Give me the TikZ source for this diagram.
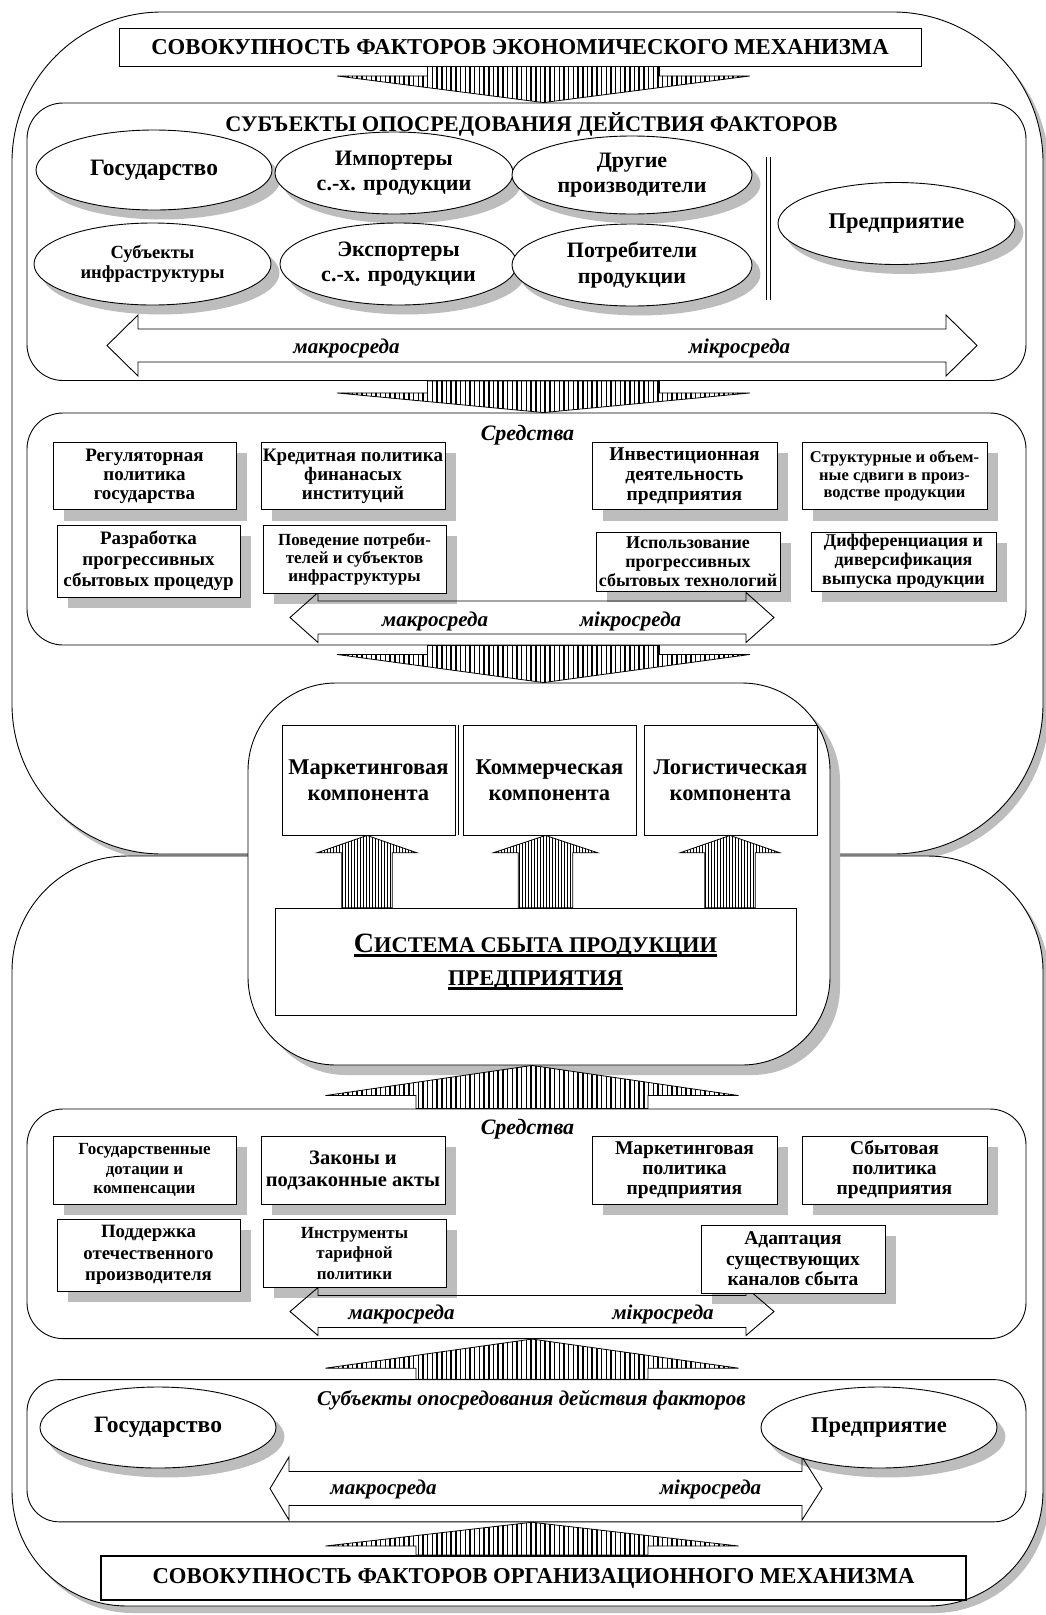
\documentclass[tikz,border=0pt]{standalone}
\usepackage{fontspec}
\setmainfont{Liberation Serif}
\usetikzlibrary{shapes.geometric,patterns.meta,calc,shadows}
\pgfdeclarelayer{bg}\pgfdeclarelayer{shd}\pgfdeclarelayer{arr}
\pgfsetlayers{bg,shd,arr,main}
\newcommand\fs[2]{\fontsize{#1}{#2}\selectfont}
\newsavebox\ulbox
\newcommand\thul[1]{\sbox\ulbox{#1}\rlap{\rule[-4.5pt]{\wd\ulbox}{3pt}}\usebox\ulbox}
\definecolor{shadowc}{gray}{0.74}
\tikzset{
 lw/.style={line width=0.9pt},
 outer/.style={draw, lw, fill=white, inner sep=0pt},
 bigbox/.style={draw, lw, fill=white, rounded corners=36pt, inner sep=0pt, minimum width=999pt},
 rbox/.style={draw, lw, fill=white, align=center, inner sep=1pt},
 cbox/.style={draw, lw, fill=white, align=center, inner sep=1pt, minimum width=173pt, minimum height=110pt, font=\bfseries\fs{22.5}{25.7}},
 ell/.style={ellipse, draw, lw, fill=white, align=center, inner sep=0pt},
 hatch/.style={draw, line width=0.8pt, preaction={fill=white}, pattern={Lines[angle=90,distance=4.7pt,line width=1.5pt]}},
 hatchs/.style={draw, line width=0.8pt, preaction={fill=white}, pattern={Lines[angle=90,distance=3pt,line width=0.9pt]}},
 blk/.style={draw, lw, line join=miter},
 itl/.style={font=\bfseries\itshape\fs{21}{24}, inner sep=0pt, anchor=base},
 ttl/.style={font=\bfseries\fs{22.7}{26}, inner sep=0pt},
}
% hatched block arrow: style, x, base, tip, signed shaft length, shaft half, head half
\newcommand\harr[7]{\path[#1] let \p1=(#2,0 |- #3), \p2=(#2,0 |- #4) in
 (\x1-#6,\y1) -- (\x1+#6,\y1) -- (\x1+#6,\y1+#5) -- (\x1+#7,\y1+#5) -- (\x2,\y2)
 -- (\x1-#7,\y1+#5) -- (\x1-#6,\y1+#5) -- cycle;}
% outlined double block arrow: left tip, left head, right head, right tip, y centre, shaft half, head half
\newcommand\dblarr[7]{\draw[blk] (#1,#5) -- (#2,#5-#7) -- (#2,#5-#6) -- (#3,#5-#6) -- (#3,#5-#7)
 -- (#4,#5) -- (#3,#5+#7) -- (#3,#5+#6) -- (#2,#5+#6) -- (#2,#5+#7) -- cycle;}
\newcommand\rshadow[1]{\fill[shadowc] ([shift={(11,11)}]#1.south west) rectangle ([shift={(11,11)}]#1.north east);}
\newcommand\eshadow[1]{\path[fill=shadowc] let \p1=(#1.east), \p2=(#1.north), \p3=(#1.center) in
 ([shift={(8,9)}]#1.center) ellipse [x radius={\x1-\x3}, y radius={\y2-\y3}];}
\begin{document}
\begin{tikzpicture}[x=1pt,y=-1pt]
\useasboundingbox (0,0) rectangle (1046,1615);
\begin{pgfonlayer}{bg}
\node[outer, rounded corners=150pt, minimum width=1031pt, minimum height=842pt,
  drop shadow={shadow xshift=6pt,shadow yshift=-7pt,fill=shadowc,opacity=1}] (otop) at (527.5,433) {};
\node[outer, rounded corners=115pt, minimum width=1031pt, minimum height=750pt,
  drop shadow={shadow xshift=6pt,shadow yshift=-7pt,fill=shadowc,opacity=1}] (obot) at (527.5,1231) {};
\node[bigbox, minimum height=277.5pt] (b2) at (526.5,241.75) {};
\node[bigbox, minimum height=232pt] (b3) at (526.5,529) {};
\node[bigbox, minimum height=229.6pt] (b4) at (526.5,1223.8) {};
\node[bigbox, minimum height=142.2pt, rounded corners=32pt] (b5) at (526.5,1450.7) {};
\node[outer, rounded corners=88pt, minimum width=582pt, minimum height=382pt,
  drop shadow={shadow xshift=10pt,shadow yshift=-10pt,fill=shadowc,opacity=1}] (cb) at (539,874) {};
\end{pgfonlayer}

% titles
\node[ttl, draw, lw, fill=white, minimum width=802pt, minimum height=38pt] (t1) at (520,47)
  {СОВОКУПНОСТЬ ФАКТОРОВ ЭКОНОМИЧЕСКОГО МЕХАНИЗМА};
\node[font=\bfseries\fs{22.3}{24}, inner sep=0pt, anchor=base] (t2) at (531.5,131)
  {СУБЪЕКТЫ ОПОСРЕДОВАНИЯ ДЕЙСТВИЯ ФАКТОРОВ};
\node[ttl, draw, line width=2pt, fill=white, minimum width=865pt, minimum height=44pt] (t3) at (533.5,1578)
  {СОВОКУПНОСТЬ ФАКТОРОВ ОРГАНИЗАЦИОННОГО МЕХАНИЗМА};

% ellipses, block 2
\node[ell, minimum width=236pt, minimum height=80pt, font=\bfseries\fs{23.5}{25.6}] (g1) at (154,170) {Государство};
\node[ell, minimum width=238pt, minimum height=82pt, font=\bfseries\fs{22}{25.6}] (imp) at (394,173) {Импортеры\\с.-х. продукции};
\node[ell, minimum width=240pt, minimum height=78pt, font=\bfseries\fs{22}{25.6}] (dr) at (632,175) {Другие\\производители};
\node[ell, minimum width=237pt, minimum height=82pt, font=\bfseries\fs{18.5}{20}] (sub) at (152.5,264) {Субъекты\\инфраструктуры};
\node[ell, minimum width=237pt, minimum height=82pt, font=\bfseries\fs{22}{25.6}] (exp) at (398.5,264) {Экспортеры\\с.-х. продукции};
\node[ell, minimum width=240pt, minimum height=82pt, font=\bfseries\fs{22}{25.6}] (pot) at (632,265) {Потребители\\продукции};
\node[ell, minimum width=237pt, minimum height=82pt, font=\bfseries\fs{22.5}{25.6}] (pr1) at (896.5,223.5) {Предприятие};
\coordinate (dlt) at (766,156.7); \coordinate (dlb) at (766,299.6);
\draw[lw] (dlt) -- (dlb);
\draw[lw] ([xshift=4.5pt]dlt) -- ([xshift=4.5pt]dlb);
\node[itl] (mk1) at (346.5,353) {макросреда};
\node[itl] (mi1) at (739.5,353) {мікросреда};

% block 3
\node[itl, font=\bfseries\itshape\fs{22}{24}] (sr1) at (527.5,440.8) {Средства};
\node[rbox, minimum width=183pt, minimum height=67pt, font=\bfseries\fs{19}{19}] (r1) at (144.5,476) {Регуляторная\\политика\\государства};
\node[rbox, minimum width=184pt, minimum height=67pt, font=\bfseries\fs{19}{19}] (r2) at (353,476) {Кредитная политика\\финанасых\\институций};
\node[rbox, minimum width=183pt, minimum height=72pt, font=\bfseries\fs{19}{21}] (r3) at (148.5,561) {Разработка\\прогрессивных\\сбытовых процедур};
\node[rbox, minimum width=183pt, minimum height=68pt, font=\bfseries\fs{17}{18}] (r4) at (354.5,559) {Поведение потреби-\\телей и субъектов\\инфраструктуры};
\node[rbox, minimum width=185pt, minimum height=67pt, font=\bfseries\fs{19.5}{20}] (r5) at (684.5,476) {Инвестиционная\\деятельность\\предприятия};
\node[rbox, minimum width=185pt, minimum height=67pt, font=\bfseries\fs{16.5}{17.2}] (r6) at (894.5,476) {Структурные и объем-\\ные сдвиги в произ-\\водстве продукции};
\node[rbox, minimum width=184pt, minimum height=59pt, font=\bfseries\fs{18}{19}] (r7) at (688,561.5) {Использование\\прогрессивных\\сбытовых технологий};
\node[rbox, minimum width=185pt, minimum height=59pt, font=\bfseries\fs{18}{19}] (r8) at (903.5,561.5) {Дифференциация и\\диверсификация\\выпуска продукции};
\node[itl] (mk2) at (435,626) {макросреда};
\node[itl] (mi2) at (630.5,626) {мікросреда};

% central block
\node[cbox] (c1) at (368.5,780) {Маркетинговая\\компонента};
\node[cbox] (c2) at (549.5,780) {Коммерческая\\компонента};
\node[cbox] (c3) at (730.5,780) {Логистическая\\компонента};
\draw[lw] ([xshift=-4pt]c2.north west) -- ([xshift=-4pt]c2.south west);
\node[draw, lw, fill=white, align=center, inner sep=0pt, minimum width=521pt, minimum height=107.5pt,
  font=\bfseries\fs{22.4}{32.6}] (sys) at (535.5,962)
  {\thul{{\fs{28}{32.6}С}ИСТЕМА СБЫТА ПРОДУКЦИИ}\\\thul{ПРЕДПРИЯТИЯ}};

% block 4
\node[itl, font=\bfseries\itshape\fs{22}{24}] (sr2) at (527.5,1134.6) {Средства};
\node[rbox, minimum width=183pt, minimum height=68pt, font=\bfseries\fs{17}{19.6}] (s1) at (144.5,1170) {Государственные\\дотации и\\компенсации};
\node[rbox, minimum width=184pt, minimum height=68pt, font=\bfseries\fs{20.5}{22}] (s2) at (353,1170) {Законы и\\подзаконные акты};
\node[rbox, minimum width=183pt, minimum height=72pt, font=\bfseries\fs{18.8}{21.4}] (s3) at (148.5,1255) {Поддержка\\отечественного\\производителя};
\node[rbox, minimum width=183pt, minimum height=68pt, font=\bfseries\fs{17}{20.5}] (s4) at (354.5,1253) {Инструменты\\тарифной\\политики};
\node[rbox, minimum width=185pt, minimum height=68pt, font=\bfseries\fs{19.5}{20}] (s5) at (684.5,1170) {Маркетинговая\\политика\\предприятия};
\node[rbox, minimum width=185pt, minimum height=68pt, font=\bfseries\fs{19.5}{20}] (s6) at (894.5,1170) {Сбытовая\\политика\\предприятия};
\node[rbox, minimum width=184pt, minimum height=68pt, font=\bfseries\fs{19.5}{20.5}] (s7) at (793,1259) {Адаптация\\существующих\\каналов сбыта};
\node[itl] (mk3) at (401.5,1319) {макросреда};
\node[itl] (mi3) at (663,1319) {мікросреда};

% block 5
\node[itl] (subj) at (531.5,1405.8) {Субъекты опосредования действия факторов};
\node[ell, minimum width=236pt, minimum height=81pt, font=\bfseries\fs{23.5}{25.6}] (g2) at (158,1427.5) {Государство};
\node[ell, minimum width=236pt, minimum height=81pt, font=\bfseries\fs{22.5}{25.6}] (pr2) at (879,1427.5) {Предприятие};
\node[itl] (mk4) at (383.5,1494.5) {макросреда};
\node[itl] (mi4) at (710.5,1494.5) {мікросреда};

% shadows
\begin{pgfonlayer}{shd}
\foreach \nm in {g1,imp,dr,sub,exp,pot,pr1,g2,pr2} {\eshadow{\nm}}
\foreach \nm in {r1,r2,r3,r4,r5,r6,r7,r8,s1,s2,s3,s4,s5,s6,s7} {\rshadow{\nm}}
\end{pgfonlayer}

% arrows
\begin{pgfonlayer}{arr}
\harr{hatch}{543.5}{t1.south}{b2.north}{-9.5pt}{116pt}{206.5pt}
\harr{hatch}{543.5}{b2.south}{b3.north}{-12pt}{116pt}{206.5pt}
\harr{hatch}{543.5}{b3.south}{cb.north}{-9pt}{116pt}{206.5pt}
\harr{hatch}{532}{b4.north}{cb.south}{13pt}{116pt}{206.5pt}
\harr{hatch}{532}{b5.north}{b4.south}{11pt}{116pt}{206.5pt}
\harr{hatch}{532}{t3.north}{b5.south}{9pt}{116pt}{206.5pt}
\harr{hatchs}{367}{sys.north}{c1.south}{55pt}{25.3pt}{50pt}
\harr{hatchs}{545.5}{sys.north}{c2.south}{55pt}{27.3pt}{52.3pt}
\harr{hatchs}{730}{sys.north}{c3.south}{55pt}{25.3pt}{50pt}
\dblarr{107}{138}{946}{977}{345.5}{16.5}{30.5}
\dblarr{290}{318}{746}{774}{617.5}{16.5}{25}
\dblarr{290}{318}{746}{774}{1311.5}{16}{24}
\dblarr{270}{289}{802}{822}{1488.5}{17}{31.5}
\end{pgfonlayer}
\end{tikzpicture}
\end{document}
